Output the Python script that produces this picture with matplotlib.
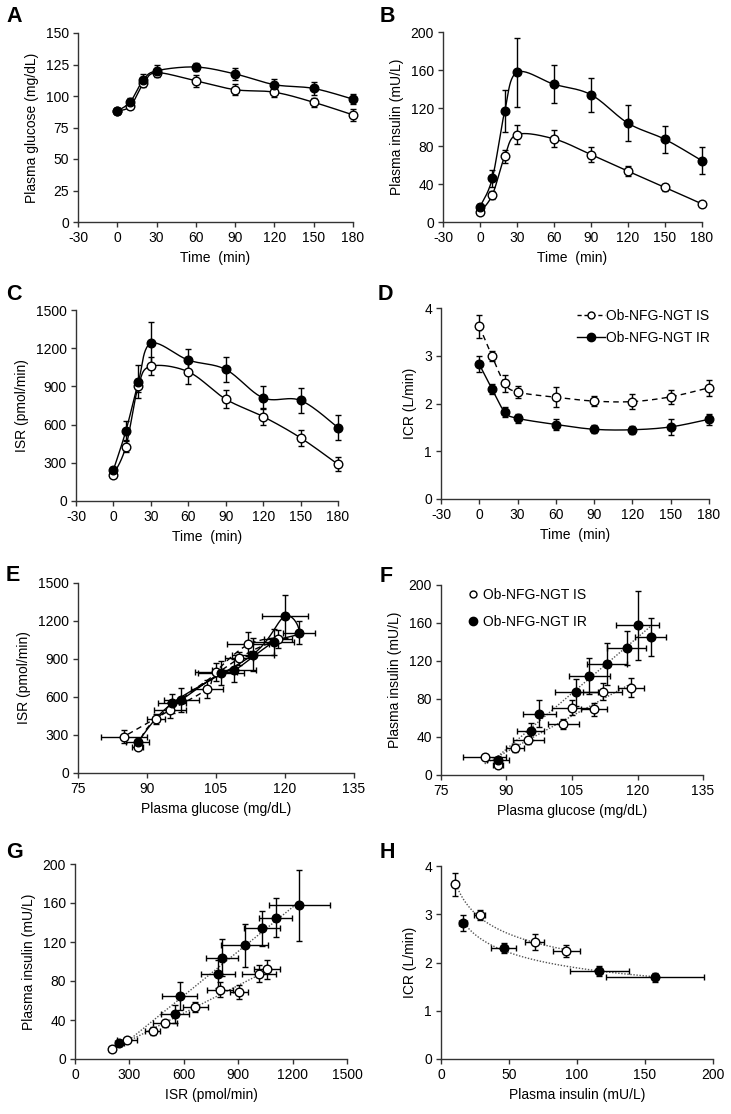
import numpy as np
import matplotlib
matplotlib.use("Agg")
import matplotlib.pyplot as plt
from matplotlib.lines import Line2D

plt.rcParams['font.family'] = ['Liberation Sans', 'DejaVu Sans']
plt.rcParams['font.size'] = 10
plt.rcParams['axes.unicode_minus'] = False

# ---------------- data ----------------
time = [0, 10, 20, 30, 60, 90, 120, 150, 180]

glu_is = [88, 92, 110, 118.5, 112, 105, 103, 95, 85]
glu_is_se = [1.2, 2, 3, 3, 4.5, 4.5, 3.5, 3.5, 5]
glu_ir = [88, 95.5, 113, 120, 123, 117.5, 109, 106, 97.5]
glu_ir_se = [2.5, 3, 4.5, 5, 3.5, 4.5, 4.8, 5, 3.8]

ins_is = [10.5, 28.5, 69, 92, 87.5, 71, 53.5, 36.5, 19]
ins_is_se = [1.5, 4, 7, 10, 9, 7.5, 5, 3.5, 1.5]
ins_ir = [16, 46, 116.5, 157.5, 145, 134, 104, 87, 64.5]
ins_ir_se = [3, 9, 22, 36, 20, 18, 19, 14.5, 14]

isr_is = [204, 428, 905, 1058, 1015, 800, 663, 496, 288]
isr_is_se = [15, 40, 50, 70, 95, 70, 70, 65, 55]
isr_ir = [245, 551, 935, 1238, 1107, 1033, 810, 790, 577]
isr_ir_se = [25, 75, 130, 170, 90, 100, 90, 95, 95]

icr_is = [3.62, 2.99, 2.42, 2.24, 2.13, 2.05, 2.04, 2.14, 2.33]
icr_is_se = [0.24, 0.10, 0.17, 0.12, 0.21, 0.11, 0.15, 0.14, 0.17]
icr_ir = [2.82, 2.30, 1.82, 1.69, 1.56, 1.46, 1.45, 1.51, 1.67]
icr_ir_se = [0.17, 0.10, 0.10, 0.09, 0.11, 0.08, 0.08, 0.17, 0.11]

n_early = 4  # panel H uses 0-30 min

lab_is = "Ob-NFG-NGT IS"
lab_ir = "Ob-NFG-NGT IR"

# ---------------- helpers ----------------
W, H = 731, 1114
fig = plt.figure(figsize=(W / 100, H / 100), dpi=100)
FS = 10


def add_ax(l, r, t, b):
    return fig.add_axes([l / W, 1 - b / H, (r - l) / W, (b - t) / H])


def style(ax, xlim, xticks, ylim, yticks, xlabel, ylabel):
    ax.set_xlim(*xlim)
    ax.set_ylim(*ylim)
    ax.set_xticks(xticks)
    ax.set_yticks(yticks)
    for s in ['top', 'right']:
        ax.spines[s].set_visible(False)
    for s in ['left', 'bottom']:
        ax.spines[s].set_color('#333333')
        ax.spines[s].set_linewidth(1)
    ax.tick_params(direction='out', length=3.5, width=1, color='#333333',
                   labelsize=FS, pad=3)
    ax.set_xlabel(xlabel, fontsize=FS, labelpad=4)
    ax.set_ylabel(ylabel, fontsize=FS, labelpad=5)


def smooth(x, y, n=25):
    P = np.column_stack([x, y]).astype(float)
    m = len(P)
    out = []
    t = np.linspace(0, 1, n)[:, None]
    for i in range(m - 1):
        p0 = P[i - 1] if i > 0 else P[i]
        p1, p2 = P[i], P[i + 1]
        p3 = P[i + 2] if i + 2 < m else P[i + 1]
        c1 = p1 + (p2 - p0) / 6
        c2 = p2 - (p3 - p1) / 6
        seg = (1 - t) ** 3 * p1 + 3 * (1 - t) ** 2 * t * c1 + 3 * (1 - t) * t ** 2 * c2 + t ** 3 * p2
        out.append(seg if i == 0 else seg[1:])
    S = np.vstack(out)
    return S[:, 0], S[:, 1]


def series(ax, x, y, yerr, xerr=None, filled=False, ls='-', line=True, ms=6.2):
    eb = ax.errorbar(x, y, yerr=yerr, xerr=xerr, fmt='none', ecolor='black',
                     elinewidth=1, capsize=2, capthick=1, zorder=2)
    for a in eb.lines[1] + eb.lines[2]:
        a.set_clip_on(False)
    for a in eb.lines[2]:
        a.set_clip_on(False)
    if line:
        sx, sy = smooth(x, y)
        ax.plot(sx, sy, color='black', lw=1, ls=ls, zorder=3, clip_on=False,
                dashes=(4, 3) if ls == '--' else (None, None))
    ax.plot(x, y, ls='none', marker='o', ms=ms, mew=1, mec='black',
            mfc='black' if filled else 'white', zorder=4, clip_on=False)


def trend_lin(ax, x, y):
    x = np.asarray(x, float); y = np.asarray(y, float)
    k, b = np.polyfit(x, y, 1)
    xx = np.array([x.min(), x.max()])
    ax.plot(xx, k * xx + b, color='#555555', ls=(0, (1, 1.2)), lw=1, zorder=1)


def trend_pow(ax, x, y):
    x = np.asarray(x, float); y = np.asarray(y, float)
    k, b = np.polyfit(np.log(x), np.log(y), 1)
    xx = np.linspace(x.min(), x.max(), 100)
    ax.plot(xx, np.exp(b) * xx ** k, color='#555555', ls=(0, (1, 1.2)), lw=1, zorder=1)


def letter(x, y, s):
    fig.text(x / W, 1 - y / H, s, fontsize=15.5, fontweight='heavy', va='top', ha='left')


tticks = [-30, 0, 30, 60, 90, 120, 150, 180]
tlim = (-30, 180)

# ---------------- A ----------------
ax = add_ax(78, 353, 33, 222)
series(ax, time, glu_is, glu_is_se)
series(ax, time, glu_ir, glu_ir_se, filled=True)
style(ax, tlim, tticks, (0, 150), range(0, 151, 25), "Time  (min)", "Plasma glucose (mg/dL)")
letter(6, 6, "A")

# ---------------- B ----------------
ax = add_ax(443, 702, 32, 222)
series(ax, time, ins_is, ins_is_se)
series(ax, time, ins_ir, ins_ir_se, filled=True)
style(ax, tlim, tticks, (0, 200), range(0, 201, 40), "Time  (min)", "Plasma insulin (mU/L)")
letter(380, 6, "B")

# ---------------- C ----------------
ax = add_ax(76, 338, 310, 501)
series(ax, time, isr_is, isr_is_se)
series(ax, time, isr_ir, isr_ir_se, filled=True)
style(ax, tlim, tticks, (0, 1500), range(0, 1501, 300), "Time  (min)", "ISR (pmol/min)")
letter(6, 284, "C")

# ---------------- D ----------------
ax = add_ax(441, 709, 308, 499)
series(ax, time, icr_is, icr_is_se, ls='--')
series(ax, time, icr_ir, icr_ir_se, filled=True)
style(ax, tlim, tticks, (0, 4), range(0, 5), "Time  (min)", "ICR (L/min)")
h1 = Line2D([], [], color='black', lw=1, dashes=(3, 2), marker='o', ms=5, mfc='white', mec='black')
h2 = Line2D([], [], color='black', lw=1, marker='o', ms=6, mfc='black', mec='black')
ax.legend([h1, h2], [lab_is, lab_ir], loc='upper right', bbox_to_anchor=(1.05, 1.06),
          frameon=False, fontsize=FS, handlelength=2.0, handletextpad=0.1, labelspacing=0.55)
letter(378, 284, "D")

# ---------------- E ----------------
ax = add_ax(78, 354, 583, 773)
series(ax, glu_is, isr_is, isr_is_se, xerr=glu_is_se, ls='--')
series(ax, glu_ir, isr_ir, isr_ir_se, xerr=glu_ir_se, filled=True)
style(ax, (75, 135), range(75, 136, 15), (0, 1500), range(0, 1501, 300),
      "Plasma glucose (mg/dL)", "ISR (pmol/min)")
letter(6, 565, "E")

# ---------------- F ----------------
ax = add_ax(441, 703, 585, 775)
series(ax, glu_is, ins_is, ins_is_se, xerr=glu_is_se, line=False)
series(ax, glu_ir, ins_ir, ins_ir_se, xerr=glu_ir_se, filled=True, line=False)
trend_lin(ax, glu_is, ins_is)
trend_lin(ax, glu_ir, ins_ir)
style(ax, (75, 135), range(75, 136, 15), (0, 200), range(0, 201, 40),
      "Plasma glucose (mg/dL)", "Plasma insulin (mU/L)")
g1 = Line2D([], [], ls='none', marker='o', ms=5, mfc='white', mec='black')
g2 = Line2D([], [], ls='none', marker='o', ms=6, mfc='black', mec='black')
ax.legend([g1, g2], [lab_is, lab_ir], loc='upper left', bbox_to_anchor=(0.06, 1.05),
          frameon=False, fontsize=FS, handlelength=0.6, handletextpad=0.4, labelspacing=0.95)
letter(380, 566, "F")

# ---------------- G ----------------
ax = add_ax(75, 347, 864, 1059)
series(ax, isr_is, ins_is, ins_is_se, xerr=isr_is_se, line=False)
series(ax, isr_ir, ins_ir, ins_ir_se, xerr=isr_ir_se, filled=True, line=False)
trend_lin(ax, isr_is, ins_is)
trend_lin(ax, isr_ir, ins_ir)
style(ax, (0, 1500), range(0, 1501, 300), (0, 200), range(0, 201, 40),
      "ISR (pmol/min)", "Plasma insulin (mU/L)")
letter(6, 842, "G")

# ---------------- H ----------------
ax = add_ax(441, 713, 866, 1059)
series(ax, ins_is[:n_early], icr_is[:n_early], icr_is_se[:n_early], xerr=ins_is_se[:n_early], line=False)
series(ax, ins_ir[:n_early], icr_ir[:n_early], icr_ir_se[:n_early], xerr=ins_ir_se[:n_early],
       filled=True, line=False)
trend_pow(ax, ins_is[:n_early], icr_is[:n_early])
trend_pow(ax, ins_ir[:n_early], icr_ir[:n_early])
style(ax, (0, 200), range(0, 201, 50), (0, 4), range(0, 5),
      "Plasma insulin (mU/L)", "ICR (L/min)")
letter(380, 842, "H")

fig.savefig("out.png", dpi=100)
